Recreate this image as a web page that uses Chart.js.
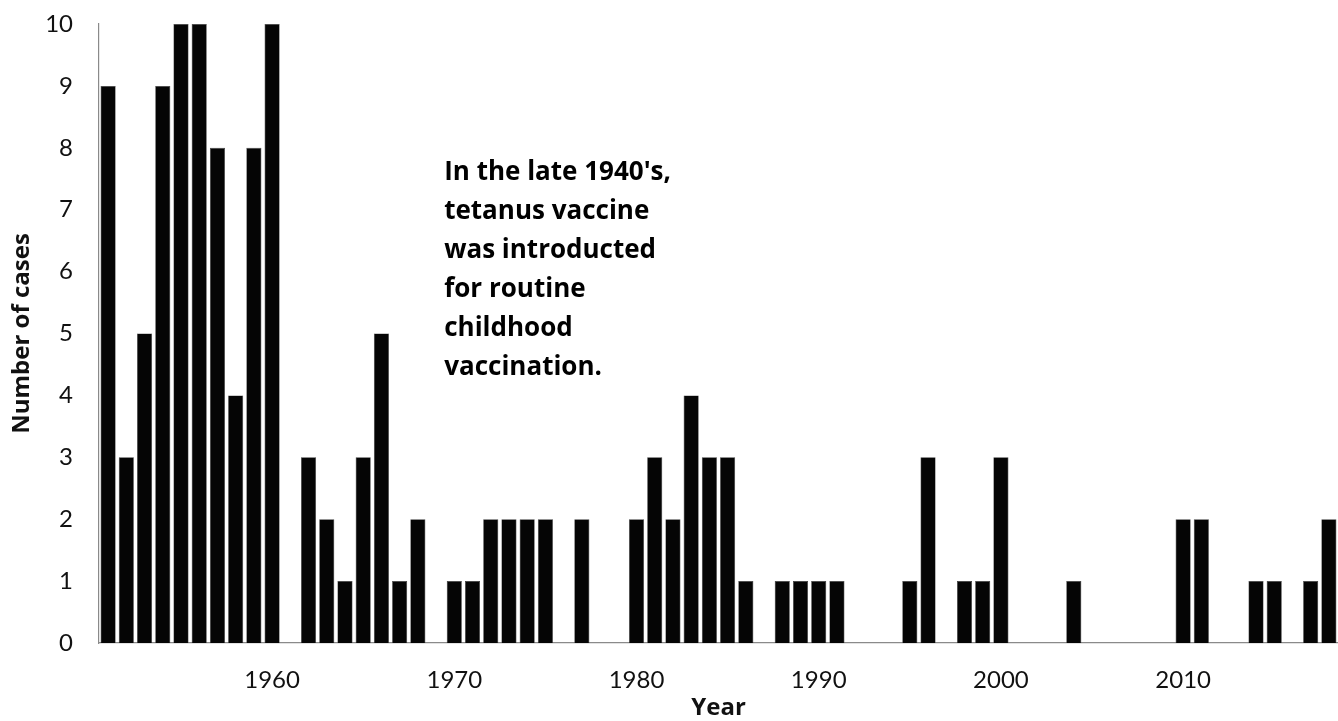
<!DOCTYPE html>
<html>
<head>
<meta charset="utf-8">
<script src="https://cdn.jsdelivr.net/npm/chart.js@4/dist/chart.umd.min.js"></script>
<style>
  html, body { margin: 0; padding: 0; background: #ffffff; }
  #wrap { width: 1338px; height: 721px; position: relative; }
</style>
</head>
<body>
<div id="wrap"><canvas id="chart" width="1338" height="721"></canvas></div>
<script>
// Reported tetanus cases per year
const years = [
  1951, 1952, 1953, 1954, 1955, 1956, 1957, 1958, 1959, 1960,
  1961, 1962, 1963, 1964, 1965, 1966, 1967, 1968, 1969, 1970,
  1971, 1972, 1973, 1974, 1975, 1976, 1977, 1978, 1979, 1980,
  1981, 1982, 1983, 1984, 1985, 1986, 1987, 1988, 1989, 1990,
  1991, 1992, 1993, 1994, 1995, 1996, 1997, 1998, 1999, 2000,
  2001, 2002, 2003, 2004, 2005, 2006, 2007, 2008, 2009, 2010,
  2011, 2012, 2013, 2014, 2015, 2016, 2017, 2018
];
const cases = [
  9, 3, 5, 9, 10, 10, 8, 4, 8, 10,
  0, 3, 2, 1, 3, 5, 1, 2, 0, 1,
  1, 2, 2, 2, 2, 0, 2, 0, 0, 2,
  3, 2, 4, 3, 3, 1, 0, 1, 1, 1,
  1, 0, 0, 0, 1, 3, 0, 1, 1, 3,
  0, 0, 0, 1, 0, 0, 0, 0, 0, 2,
  2, 0, 0, 1, 1, 0, 1, 2
];
const yTicks = [0, 1, 2, 3, 4, 5, 6, 7, 8, 9, 10];
const labeledYears = [1960, 1970, 1980, 1990, 2000, 2010];
const noteLines = [
  "In the late 1940's,",
  "tetanus vaccine",
  "was introducted",
  "for routine",
  "childhood",
  "vaccination."
];

const TICK_FONT = "Lato, 'Open Sans', sans-serif";
const BOLD_FONT = "'Open Sans', Lato, sans-serif";

// Multi-line note placed in data space, left edge at the 1969/1970 boundary
const notePlugin = {
  id: 'note',
  afterDatasetsDraw(chart) {
    const { ctx, scales: { x, y } } = chart;
    const left = (x.getPixelForValue(18) + x.getPixelForValue(19)) / 2 - 1;
    const firstBaseline = y.getPixelForValue(7.48);
    const lineGap = 39;
    ctx.save();
    ctx.fillStyle = '#000000';
    ctx.font = "bold 26px " + BOLD_FONT;
    ctx.textAlign = 'left';
    ctx.textBaseline = 'alphabetic';
    noteLines.forEach((t, i) => ctx.fillText(t, left, firstBaseline + i * lineGap));
    ctx.restore();
  }
};

new Chart(document.getElementById('chart'), {
  type: 'bar',
  data: {
    labels: years.map(String),
    datasets: [{
      data: cases,
      backgroundColor: '#050505',
      borderColor: '#3a3a3a',
      borderWidth: 0.6,
      barPercentage: 0.83,
      categoryPercentage: 1.0
    }]
  },
  options: {
    responsive: false,
    animation: false,
    layout: { padding: { top: 24, right: 0, bottom: 0, left: 0 } },
    plugins: {
      legend: { display: false },
      tooltip: { enabled: false }
    },
    scales: {
      x: {
        grid: { display: false, drawTicks: false },
        border: { display: true, color: '#8a8a8a', width: 1.2 },
        ticks: {
          autoSkip: false,
          maxRotation: 0,
          minRotation: 0,
          padding: 23,
          color: '#111111',
          font: { family: TICK_FONT, size: 24 },
          callback: (v, i) => labeledYears.includes(years[i]) ? String(years[i]) : ''
        },
        title: {
          display: true,
          text: 'Year',
          color: '#111111',
          font: { family: BOLD_FONT, size: 24, weight: 'bold' },
          padding: { top: 0, bottom: -2 }
        },
        afterFit(scale) {
          scale.height = 78;
          scale.paddingLeft = 0;
          scale.paddingRight = 0;
        }
      },
      y: {
        min: 0,
        max: 10,
        afterBuildTicks(scale) { scale.ticks = yTicks.map(v => ({ value: v })); },
        grid: { display: false, drawTicks: false },
        border: { display: true, color: '#8a8a8a', width: 1.2 },
        ticks: {
          padding: 26,
          color: '#111111',
          font: { family: TICK_FONT, size: 24 }
        },
        title: {
          display: true,
          text: 'Number of cases',
          color: '#111111',
          font: { family: BOLD_FONT, size: 24, weight: 'bold' },
          padding: { top: 8, bottom: 0 }
        },
        afterFit(scale) {
          scale.width = 99;
          scale.paddingTop = 0;
          scale.paddingBottom = 0;
        }
      }
    }
  },
  plugins: [notePlugin]
});
</script>
</body>
</html>
